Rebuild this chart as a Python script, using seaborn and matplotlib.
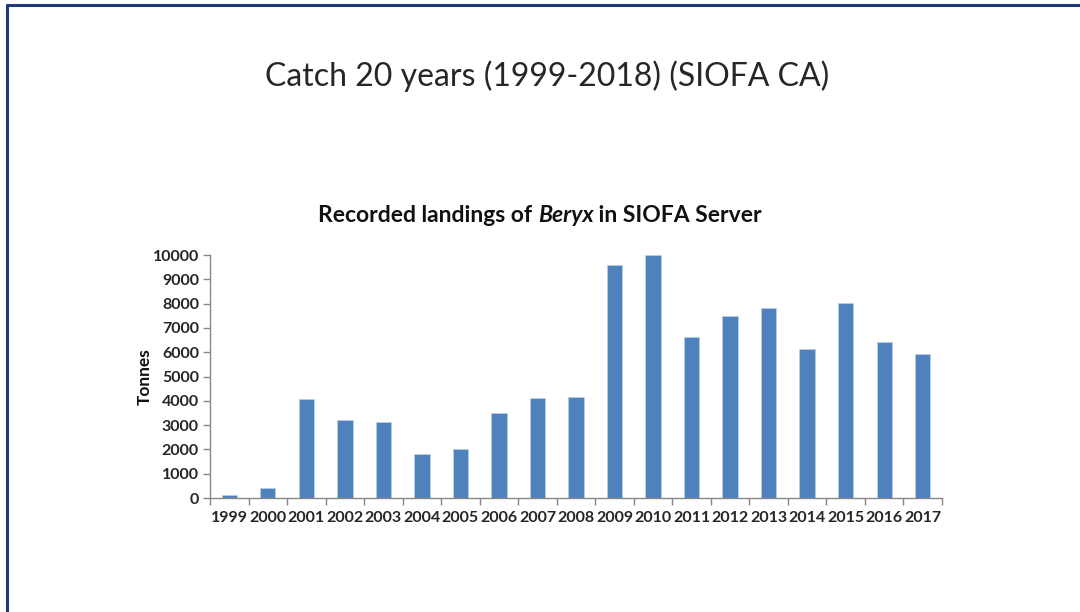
import matplotlib
matplotlib.use("Agg")
import matplotlib.pyplot as plt
import seaborn as sns
import pandas as pd
from matplotlib.lines import Line2D

years = ["1999", "2000", "2001", "2002", "2003", "2004", "2005", "2006", "2007", "2008",
         "2009", "2010", "2011", "2012", "2013", "2014", "2015", "2016", "2017"]
tonnes = [140, 430, 4060, 3230, 3120, 1830, 2010, 3500, 4110, 4140,
          9570, 10000, 6630, 7480, 7800, 6120, 8030, 6410, 5930]
y_ticks = [0, 1000, 2000, 3000, 4000, 5000, 6000, 7000, 8000, 9000, 10000]

slide_title = "Catch 20 years (1999-2018) (SIOFA CA)"
chart_title_parts = [("Recorded landings of ", "normal"), ("Beryx", "italic"), (" in SIOFA Server", "normal")]
y_label = "Tonnes"

sns.set_theme(style="white")
plt.rcParams['font.family'] = ['Lato', 'DejaVu Sans']

df = pd.DataFrame({"year": years, "tonnes": tonnes})

fig = plt.figure(figsize=(10.8, 6.12), dpi=100)
ax = fig.add_axes([210 / 1080, 1 - 498 / 612, 732 / 1080, 243 / 612])

sns.barplot(data=df, x="year", y="tonnes", color="#4F81BD", saturation=1,
            width=0.4, edgecolor="#b9cde5", linewidth=0.6, ax=ax)

ax.set_xlim(-0.5, len(years) - 0.5)
ax.set_ylim(0, 10000)
ax.set_yticks(y_ticks)
ax.set_yticklabels([str(t) for t in y_ticks], fontsize=11.5, fontweight="bold", color="#262626")

# category boundaries as major ticks, labels at centres on minor ticks
ax.set_xticks([i - 0.5 for i in range(len(years) + 1)])
ax.set_xticklabels([""] * (len(years) + 1))
ax.set_xticks(range(len(years)), minor=True)
ax.set_xticklabels(years, minor=True, fontsize=11.5, fontweight="bold", color="#262626")
ax.tick_params(axis="x", which="major", length=5, width=1, color="#868686", direction="out", bottom=True)
ax.tick_params(axis="x", which="minor", length=0, pad=9)
ax.tick_params(axis="y", length=5, width=1, color="#868686", direction="out", left=True, pad=3)

for s in ["top", "right"]:
    ax.spines[s].set_visible(False)
for s in ["left", "bottom"]:
    ax.spines[s].set_color("#868686")
    ax.spines[s].set_linewidth(1)

ax.set_xlabel("")
ax.set_ylabel(y_label, fontsize=12.5, fontweight="bold", color="#111111", labelpad=0)
ax.grid(False)

# slide title
fig.text(547 / 1080, 1 - 76 / 612, slide_title, ha="center", va="center",
         fontsize=23, fontweight="normal", color="#262626")

# chart title with italic part
fig.canvas.draw()
renderer = fig.canvas.get_renderer()
texts = []
for s, style in chart_title_parts:
    t = fig.text(0, 1 - 215 / 612, s, ha="left", va="center", fontsize=16.5,
                 fontweight="bold", style=style, color="#111111")
    texts.append(t)
widths = [t.get_window_extent(renderer).width for t in texts]
total = sum(widths)
x0 = 540 - total / 2
for t, w in zip(texts, widths):
    t.set_x(x0 / 1080)
    x0 += w

# slide frame (left and top edges)
fig.add_artist(Line2D([7 / 1080, 7 / 1080], [0, 1 - 5 / 612], transform=fig.transFigure,
                      color="#1F3A78", linewidth=2.2))
fig.add_artist(Line2D([7 / 1080, 1], [1 - 5 / 612, 1 - 5 / 612], transform=fig.transFigure,
                      color="#1F3A78", linewidth=2.2))

fig.savefig("out.png", dpi=100, facecolor="white")
